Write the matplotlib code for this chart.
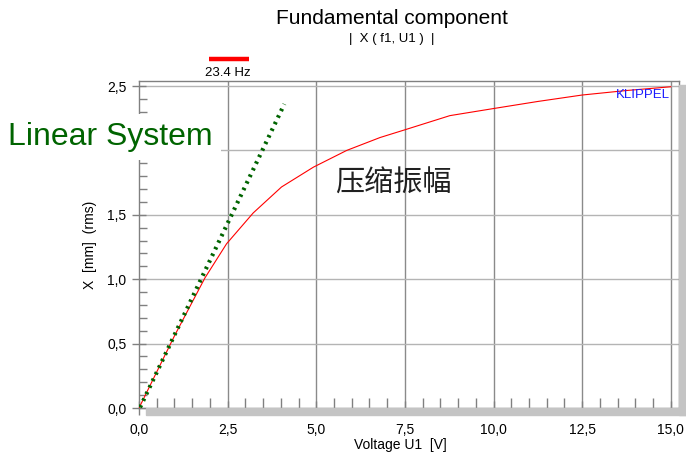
"Fundamental component of displacement vs. voltage, with linear reference."

import matplotlib.pyplot as plt
from matplotlib.patches import Rectangle
from matplotlib.ticker import MultipleLocator, FuncFormatter

# measured curve (red)
voltage = [0.0, 1.0, 1.86, 2.47, 3.22, 4.02, 4.92, 5.86, 6.8, 7.5, 8.77,
           10.0, 11.25, 12.5, 13.75, 15.0]
displacement = [0.0, 0.56, 1.01, 1.275, 1.514, 1.716, 1.87, 2.0, 2.10, 2.16,
                2.27, 2.325, 2.38, 2.43, 2.465, 2.494]

# ideal linear system (green dotted)
linear_x = [0.03, 4.1]
linear_y = [0.005, 2.36]

x_ticks = [0.0, 2.5, 5.0, 7.5, 10.0, 12.5, 15.0]
y_ticks = [0.0, 0.5, 1.0, 1.5, 2.0, 2.5]

W, H = 686, 454
fig = plt.figure(figsize=(W / 100, H / 100), dpi=100)
plt.rcParams['font.family'] = ['Liberation Sans', 'DejaVu Sans']

left, right, top, bottom = 139, 679, 81, 408
ax = fig.add_axes([left / W, 1 - bottom / H, (right - left) / W, (bottom - top) / H])

# drop shadow on right and bottom
fig.patches.append(Rectangle((679 / W, 1 - 415 / H), 7 / W, (415 - 85) / H,
                             transform=fig.transFigure, color="#c4c4c4", zorder=0))
fig.patches.append(Rectangle((146 / W, 1 - 415 / H), (686 - 146) / W, 7 / H,
                             transform=fig.transFigure, color="#c4c4c4", zorder=0))

ax.set_xlim(0, (right - left) / 35.45)
ax.set_ylim(0, 2.5 + (86 - top) / 128.6)

for x in x_ticks[1:]:
    ax.axvline(x, color="#8a8a8a", lw=1.0, zorder=1)
for y in y_ticks[1:]:
    ax.axhline(y, color="#b4b4b4", lw=1.0, zorder=1)

ax.plot(voltage, displacement, color="red", lw=0.8, zorder=3)
ax.plot(linear_x, linear_y, color="#006400", lw=3, linestyle=(0, (0.6, 1.15)),
        zorder=4)

ax.xaxis.set_major_locator(MultipleLocator(2.5))
ax.xaxis.set_minor_locator(MultipleLocator(0.5))
ax.yaxis.set_major_locator(MultipleLocator(0.5))
ax.yaxis.set_minor_locator(MultipleLocator(0.1))
fmt = FuncFormatter(lambda v, p: f"{v:.1f}".replace(".", ","))
ax.xaxis.set_major_formatter(fmt)
ax.yaxis.set_major_formatter(fmt)

ax.tick_params(axis="both", which="major", direction="inout", length=10,
               color="#808080", labelsize=10, width=1)
ax.tick_params(axis="x", which="minor", direction="in", length=7,
               color="#808080", width=1)
ax.tick_params(axis="y", which="minor", direction="in", length=6,
               color="#808080", width=1)
ax.tick_params(axis="x", which="major", pad=6)
ax.tick_params(axis="y", which="major", pad=4)

for s in ax.spines.values():
    s.set_color("#808080")
    s.set_linewidth(1)

ax.set_xlabel("Voltage U1  [V]", fontsize=10)
ax.xaxis.set_label_coords((400 - left) / (right - left), -(438 - bottom) / (bottom - top))
ax.set_ylabel("X  [mm]  (rms)", fontsize=10)
ax.yaxis.set_label_coords(-(left - 97) / (right - left), (bottom - 245) / (bottom - top))

fig.text(392 / W, 1 - 18 / H, "Fundamental component", fontsize=15,
         ha="center", va="center")
fig.text(392 / W, 1 - 39 / H, "|  X ( f1, U1 )  |", fontsize=9.5,
         ha="center", va="center")
fig.add_artist(plt.Line2D([209 / W, 249 / W], [1 - 59 / H, 1 - 59 / H],
                          color="red", lw=3.2, solid_capstyle="butt"))
fig.text(228 / W, 1 - 73 / H, "23.4 Hz", fontsize=9.5, ha="center", va="center")

fig.text(670 / W, 1 - 95 / H, "KLIPPEL", fontsize=9.5, color="#1a1aff",
         ha="right", va="center")
# white box behind the label hides the axis and the 2,0 tick label, as in the original
fig.text(8 / W, 1 - 137 / H, "Linear System", fontsize=23, color="#006400",
         ha="left", va="center", zorder=5,
         bbox=dict(boxstyle="square,pad=0.25", facecolor="white", edgecolor="none"))
fig.text(393 / W, 1 - 184 / H, "压缩振幅", fontsize=21, color="#202020",
         ha="center", va="center", family=["Noto Sans CJK SC", "DejaVu Sans"],
         fontweight="light")

fig.savefig("out.png", dpi=100)
